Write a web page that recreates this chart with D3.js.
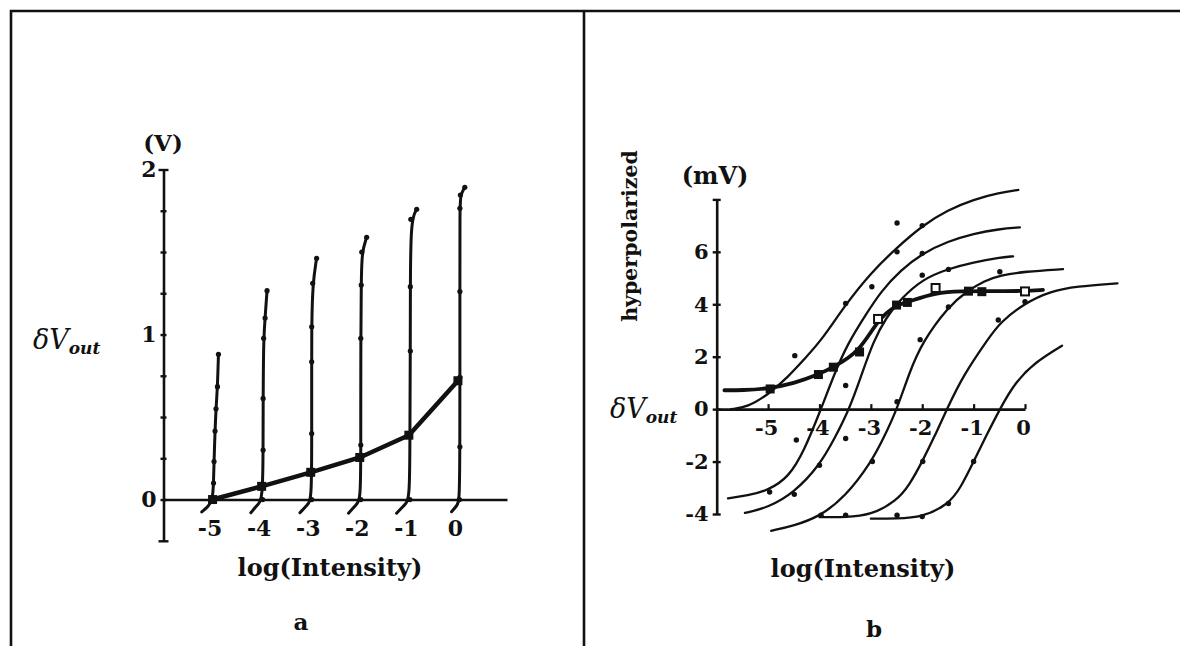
<!DOCTYPE html>
<html>
<head>
<meta charset="utf-8">
<script src="https://cdn.jsdelivr.net/npm/d3@7"></script>
<style>
  body { margin: 0; background: #fff; }
</style>
</head>
<body>
<svg id="fig"></svg>
<script>
const w = 1180;
const h = 646;

// ---- panel a: dV_out (V) vs log(Intensity) ----
const aXTicks = [-5, -4, -3, -2, -1, 0];
const aYTicks = [-0.25, 0, 0.25, 0.5, 0.75, 1, 1.25, 1.5, 1.75, 2];
const aYLabels = [0, 1, 2];

// one trace per adaptation level
const traceM5 = [[-5.22, -0.075], [-5.08, -0.04], [-5.0, 0], [-4.98, 0.1], [-4.97, 0.23], [-4.95, 0.415], [-4.93, 0.55], [-4.9, 0.684], [-4.88, 0.88]];
const traceM4 = [[-4.22, -0.08], [-4.08, -0.03], [-3.98, 0], [-3.97, 0.3], [-3.97, 0.613], [-3.96, 0.977], [-3.93, 1.1], [-3.89, 1.266]];
const traceM3 = [[-3.22, -0.08], [-3.06, -0.03], [-2.98, 0], [-2.98, 0.4], [-2.98, 0.835], [-2.98, 1.047], [-2.96, 1.31], [-2.88, 1.462]];
const traceM2 = [[-2.23, -0.083], [-2.07, -0.03], [-1.98, 0], [-1.98, 0.33], [-1.98, 0.977], [-1.97, 1.3], [-1.96, 1.5], [-1.86, 1.589]];
const traceM1 = [[-1.25, -0.083], [-1.08, -0.03], [-0.98, 0], [-0.98, 0.4], [-0.97, 0.9], [-0.97, 1.29], [-0.96, 1.698], [-0.84, 1.759]];
const trace0 = [[-0.13, -0.074], [0.0, -0.03], [0.03, 0], [0.04, 0.32], [0.04, 0.74], [0.04, 1.26], [0.04, 1.765], [0.05, 1.845], [0.14, 1.892]];
const aTraces = [traceM5, traceM4, traceM3, traceM2, traceM1, trace0];

// steady state response
const aSteady = [[-5, 0.0], [-4, 0.08], [-3, 0.165], [-2, 0.255], [-1, 0.39], [0, 0.72]];

// ---- panel b: dV_out (mV) vs log(Intensity) ----
const bXTicks = [-5, -4, -3, -2, -1, 0];
const bYTicks = [-4, -2, 0, 2, 4, 6, 8];
const bYLabels = [-4, -2, 0, 2, 4, 6];

const curveB1 = [[-5.72, 0.0], [-5.4, 0.08], [-5.0, 0.55], [-4.6, 1.25], [-4.3, 1.9], [-3.97, 2.6], [-3.49, 4.0], [-3.0, 5.2], [-2.5, 6.15], [-2.0, 7.0], [-1.5, 7.6], [-1.0, 8.0], [-0.5, 8.25], [-0.13, 8.36]];
const curveB2 = [[-5.78, -3.4], [-5.4, -3.3], [-5.0, -3.1], [-4.6, -2.6], [-4.3, -1.6], [-3.97, 0.0], [-3.7, 1.4], [-3.45, 2.5], [-3.1, 3.6], [-2.8, 4.5], [-2.42, 5.3], [-2.0, 5.94], [-1.5, 6.4], [-1.0, 6.7], [-0.5, 6.87], [-0.1, 6.93]];
const curveB3 = [[-5.45, -3.96], [-5.0, -3.75], [-4.5, -3.2], [-4.0, -2.15], [-3.7, -1.1], [-3.42, 0.0], [-3.2, 1.2], [-2.95, 2.6], [-2.7, 3.5], [-2.42, 4.2], [-2.0, 4.95], [-1.5, 5.35], [-1.0, 5.6], [-0.5, 5.78], [-0.23, 5.83]];
const curveB4 = [[-4.94, -4.64], [-4.5, -4.45], [-4.0, -4.1], [-3.5, -3.35], [-3.0, -2.05], [-2.75, -1.1], [-2.49, 0.0], [-2.25, 1.4], [-2.0, 2.55], [-1.5, 3.9], [-1.13, 4.5], [-0.78, 4.9], [-0.49, 5.1], [0.0, 5.25], [0.74, 5.34]];
const curveB5 = [[-4.0, -4.12], [-3.5, -4.12], [-3.0, -4.05], [-2.5, -3.5], [-2.25, -2.9], [-2.0, -2.0], [-1.75, -1.0], [-1.52, 0.0], [-1.2, 1.3], [-0.71, 2.7], [-0.49, 3.3], [0.0, 4.05], [0.5, 4.5], [1.0, 4.68], [1.8, 4.8]];
const curveB6 = [[-3.0, -4.18], [-2.5, -4.18], [-2.0, -4.12], [-1.5, -3.65], [-1.25, -3.0], [-1.0, -2.0], [-0.75, -1.0], [-0.49, 0.0], [-0.2, 1.0], [0.2, 1.8], [0.72, 2.42]];
const bCurves = [curveB1, curveB2, curveB3, curveB4, curveB5, curveB6];

const bDots = [[-4.97, -3.16], [-4.49, -3.25], [-4.45, -1.18], [-3.49, -1.12], [-4.0, -2.14], [-3.97, -4.05], [-3.49, -4.05],
  [-2.97, -2.0], [-2.49, -4.05], [-1.99, -2.0], [-2.0, -4.1], [-1.49, -3.6], [-1.0, -2.0],
  [-4.48, 2.04], [-3.49, 0.9], [-3.49, 4.03], [-2.98, 4.67], [-2.49, 6.0], [-2.49, 7.1], [-2.0, 7.0], [-2.0, 5.94],
  [-2.0, 5.11], [-1.49, 5.33], [-2.04, 2.65], [-1.49, 3.9], [-0.49, 5.24], [-0.52, 3.4], [0.0, 4.1], [-2.49, 0.28]];

// plateau curve with square markers
const bPlateau = [[-5.85, 0.72], [-5.5, 0.72], [-5.0, 0.78], [-4.5, 0.98], [-4.02, 1.32], [-3.73, 1.6], [-3.22, 2.18], [-2.86, 3.44], [-2.5, 3.97], [-2.29, 4.08], [-1.74, 4.45], [-1.2, 4.5], [-0.84, 4.5], [0.0, 4.5], [0.35, 4.55]];
const bSquaresFilled = [[-4.96, 0.77], [-4.02, 1.32], [-3.73, 1.6], [-3.22, 2.18], [-2.5, 3.97], [-2.29, 4.07], [-1.1, 4.5], [-0.84, 4.48]];
const bSquaresOpen = [[-2.86, 3.44], [-1.74, 4.62], [0.0, 4.49]];

const ink = "#111";
const serif = "DejaVu Serif, Liberation Serif, serif";

const svg = d3.select("#fig").attr("width", w).attr("height", h)
  .style("background", "#fff");

// frame
svg.append("path")
  .attr("d", "M11,646 V11 H1180 M584,11 V646")
  .attr("fill", "none").attr("stroke", ink).attr("stroke-width", 2.6);

// ---------------- panel a ----------------
const xA = d3.scaleLinear().domain([-6, 1]).range([163.5, 507]);
const yA = d3.scaleLinear().domain([-0.25, 2]).range([540.8, 169.5]);

const gyA = svg.append("g")
  .attr("transform", "translate(" + xA(-6) + ",0)")
  .call(d3.axisLeft(yA).tickValues(aYTicks)
    .tickFormat(d => aYLabels.includes(d) ? String(d) : "")
    .tickSizeInner(3).tickSizeOuter(0).tickPadding(4));
gyA.selectAll(".tick line")
  .attr("x1", d => (d === 2 || d === -0.25) ? 5 : 3)
  .attr("x2", d => (d === 2 || d === -0.25) ? -5 : -3)
  .attr("stroke", ink).attr("stroke-width", 2.4);
gyA.select(".domain").attr("stroke", ink).attr("stroke-width", 2.6);
gyA.selectAll("text").attr("font-family", serif).attr("font-weight", "bold")
  .attr("font-size", 22).attr("fill", ink);

const gxA = svg.append("g")
  .attr("transform", "translate(0," + yA(0) + ")")
  .call(d3.axisBottom(xA).tickValues(aXTicks).tickFormat(d => String(d))
    .tickSize(0).tickPadding(21));
gxA.select(".domain").attr("stroke", ink).attr("stroke-width", 2.6);
gxA.selectAll("text").attr("font-family", serif).attr("font-weight", "bold")
  .attr("font-size", 22).attr("fill", ink).attr("dx", -3);

const lineA = d3.line().x(d => xA(d[0])).y(d => yA(d[1])).curve(d3.curveBasis);

svg.append("g").selectAll("path")
  .data(aTraces).join("path")
  .attr("d", lineA)
  .attr("fill", "none").attr("stroke", ink).attr("stroke-width", 3)
  .attr("stroke-linecap", "round");

svg.append("g").selectAll("circle")
  .data(aTraces.flat().filter(d => d[1] >= 0)).join("circle")
  .attr("cx", d => xA(d[0])).attr("cy", d => yA(d[1])).attr("r", 2.6)
  .attr("fill", ink);

svg.append("path")
  .datum(aSteady)
  .attr("d", d3.line().x(d => xA(d[0])).y(d => yA(d[1])))
  .attr("fill", "none").attr("stroke", ink).attr("stroke-width", 4.5)
  .attr("stroke-linejoin", "round");

svg.append("g").selectAll("rect")
  .data(aSteady).join("rect")
  .attr("x", d => xA(d[0]) - 4.5).attr("y", d => yA(d[1]) - 4.5)
  .attr("width", 9).attr("height", 9).attr("fill", ink);

// ---------------- panel b ----------------
const xB = d3.scaleLinear().domain([-6, 0]).range([716.7, 1025]);
const yB = d3.scaleLinear().domain([-4, 8]).range([514, 199.4]);

const gyB = svg.append("g")
  .attr("transform", "translate(" + xB(-6) + ",0)")
  .call(d3.axisLeft(yB).tickValues(bYTicks)
    .tickFormat(d => bYLabels.includes(d) ? String(d) : "")
    .tickSizeInner(4).tickSizeOuter(0).tickPadding(4));
gyB.selectAll(".tick line")
  .attr("x1", 4).attr("x2", -4)
  .attr("stroke", ink).attr("stroke-width", 2.4);
gyB.select(".domain").attr("stroke", ink).attr("stroke-width", 2.6);
gyB.selectAll("text").attr("font-family", serif).attr("font-weight", "bold")
  .attr("font-size", 21).attr("fill", ink);

const gxB = svg.append("g")
  .attr("transform", "translate(0," + yB(0) + ")")
  .call(d3.axisBottom(xB).tickValues(bXTicks).tickFormat(d => String(d))
    .tickSizeInner(-5).tickSizeOuter(0).tickPadding(11));
gxB.selectAll(".tick line").attr("stroke", ink).attr("stroke-width", 2.2);
gxB.select(".domain").attr("stroke", ink).attr("stroke-width", 2.6);
gxB.selectAll("text").attr("font-family", serif).attr("font-weight", "bold")
  .attr("font-size", 21).attr("fill", ink).attr("dx", -2);

const lineB = d3.line().x(d => xB(d[0])).y(d => yB(d[1])).curve(d3.curveBasis);

svg.append("g").selectAll("path")
  .data(bCurves).join("path")
  .attr("d", lineB)
  .attr("fill", "none").attr("stroke", ink).attr("stroke-width", 2.3)
  .attr("stroke-linecap", "round");

svg.append("path")
  .datum(bPlateau)
  .attr("d", lineB)
  .attr("fill", "none").attr("stroke", ink).attr("stroke-width", 3.8)
  .attr("stroke-linecap", "round");

svg.append("g").selectAll("circle")
  .data(bDots).join("circle")
  .attr("cx", d => xB(d[0])).attr("cy", d => yB(d[1])).attr("r", 2.7)
  .attr("fill", ink);

svg.append("g").selectAll("rect")
  .data(bSquaresFilled).join("rect")
  .attr("x", d => xB(d[0]) - 4.5).attr("y", d => yB(d[1]) - 4.5)
  .attr("width", 9).attr("height", 9).attr("fill", ink);

svg.append("g").selectAll("rect")
  .data(bSquaresOpen).join("rect")
  .attr("x", d => xB(d[0]) - 4).attr("y", d => yB(d[1]) - 4)
  .attr("width", 8).attr("height", 8)
  .attr("fill", "#fff").attr("stroke", ink).attr("stroke-width", 2);

// ---------------- labels ----------------
function txt(x, y, s, size, extra) {
  const t = svg.append("text").attr("x", x).attr("y", y)
    .attr("font-family", serif).attr("font-weight", "bold")
    .attr("font-size", size).attr("fill", ink).attr("text-anchor", "middle").text(s);
  if (extra) extra(t);
  return t;
}

function dV(x, y) {
  const t = svg.append("text").attr("x", x).attr("y", y)
    .attr("font-family", serif).attr("fill", ink);
  t.append("tspan").attr("font-style", "italic").attr("font-size", 27).text("δV");
  t.append("tspan").attr("font-style", "italic").attr("font-weight", "bold")
    .attr("font-size", 17).attr("dy", 5).text("out");
}

txt(163, 151, "(V)", 23);
dV(33, 349);
txt(330, 576, "log(Intensity)", 24);
txt(301, 630, "a", 23);

txt(715, 184, "(mV)", 24);
txt(0, 0, "hyperpolarized", 20.5, t => t.attr("transform", "translate(637,236) rotate(-90)"));
dV(610, 418);
txt(863, 577, "log(Intensity)", 24);
txt(874, 637, "b", 23);
</script>
</body>
</html>
